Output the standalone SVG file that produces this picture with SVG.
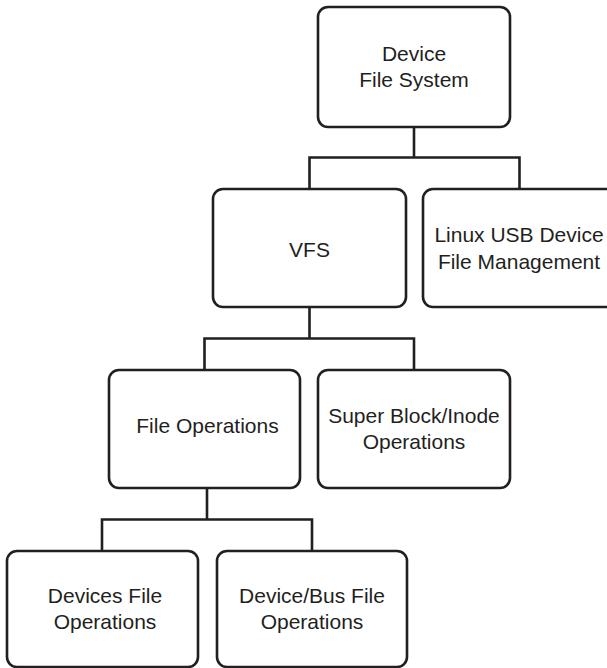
<svg xmlns="http://www.w3.org/2000/svg" width="607" height="668" viewBox="0 0 607 668">
<style>
.box{fill:#ffffff;stroke:#231f20;stroke-width:2.6}
.lbl{font-family:"Liberation Sans",Arial,sans-serif;font-size:21px;fill:#231f20;text-anchor:middle}
.conn{fill:none;stroke:#231f20;stroke-width:2.6}
</style>
<rect width="607" height="668" fill="#ffffff"/>
<g id="connectors">
<path class="conn" d="M414 127 V157.5 M309.5 157.5 H519.5 M309.5 156.2 V189 M519.5 156.2 V189"/>
<path class="conn" d="M309.5 307 V338.5 M204.5 338.5 H414 M204.5 337.2 V370 M414 337.2 V370"/>
<path class="conn" d="M207 488 V519.5 M102 519.5 H312 M102 518.2 V551 M312 518.2 V551"/>
</g>
<g id="device-file-system">
<rect class="box" x="318" y="7" width="192" height="120" rx="10"/>
<text class="lbl" x="414" y="61">Device</text>
<text class="lbl" x="414" y="87">File System</text>
</g>
<g id="vfs">
<rect class="box" x="213" y="189" width="193" height="118" rx="10"/>
<text class="lbl" x="309.5" y="257">VFS</text>
</g>
<g id="linux-usb">
<rect class="box" x="423" y="189" width="194" height="118" rx="10"/>
<text class="lbl" x="519" y="242">Linux USB Device</text>
<text class="lbl" x="519" y="268.5">File Management</text>
</g>
<g id="file-operations">
<rect class="box" x="109" y="370" width="191" height="118" rx="10"/>
<text class="lbl" x="207.5" y="433.3">File Operations</text>
</g>
<g id="super-block">
<rect class="box" x="318" y="370" width="192" height="118" rx="10"/>
<text class="lbl" x="414" y="422.7">Super Block/Inode</text>
<text class="lbl" x="414" y="448.5">Operations</text>
</g>
<g id="devices-file">
<rect class="box" x="7" y="551" width="191" height="116" rx="10"/>
<text class="lbl" x="105" y="603.3">Devices File</text>
<text class="lbl" x="105" y="629.3">Operations</text>
</g>
<g id="device-bus-file">
<rect class="box" x="217" y="551" width="190" height="116" rx="10"/>
<text class="lbl" x="312" y="603.3">Device/Bus File</text>
<text class="lbl" x="312" y="629.3">Operations</text>
</g>
</svg>
